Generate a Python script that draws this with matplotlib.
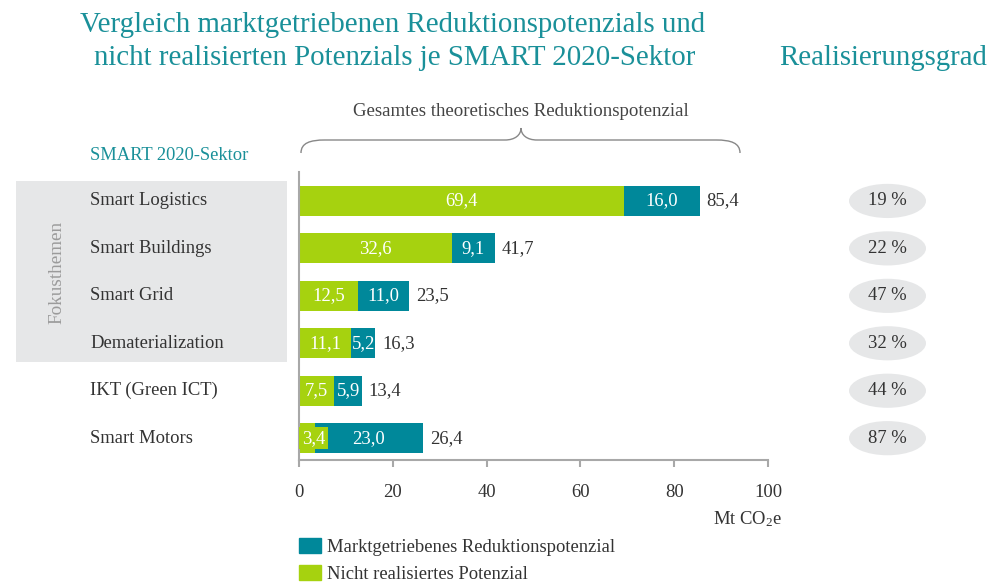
import numpy as np
import matplotlib
matplotlib.use('Agg')
import matplotlib.pyplot as plt
from matplotlib.patches import Patch, Ellipse, Rectangle, PathPatch
from matplotlib.path import Path
from matplotlib import transforms

# Daten
sektoren = ['Smart Logistics', 'Smart Buildings', 'Smart Grid', 'Dematerialization',
            'IKT (Green ICT)', 'Smart Motors']
nicht_realisiert = [69.4, 32.6, 12.5, 11.1, 7.5, 3.4]
marktgetrieben = [16.0, 9.1, 11.0, 5.2, 5.9, 23.0]
gesamt = [85.4, 41.7, 23.5, 16.3, 13.4, 26.4]
realisierungsgrad = ['19 %', '22 %', '47 %', '32 %', '44 %', '87 %']
x_ticks = [0, 20, 40, 60, 80, 100]

GREEN = '#a6d20f'
TEAL = '#00889a'
TITLE_COL = '#1a9099'
TEXT_COL = '#333333'
GREY_BG = '#e6e7e8'
AXIS_COL = '#a8a8a8'
FS = 13.4
TITLE_FS = 20.8

plt.rcParams['font.family'] = ['Liberation Serif', 'DejaVu Serif']
plt.rcParams['mathtext.default'] = 'regular'

W, H = 997, 583
fig = plt.figure(figsize=(W / 100, H / 100), dpi=100)

# Overlay in Pixelkoordinaten fuer Titel und Klammer
over = fig.add_axes([0, 0, 1, 1])
over.set_xlim(0, W)
over.set_ylim(H, 0)
over.axis('off')

ax = fig.add_axes([299 / W, 1 - 460 / H, 469 / W, 288 / H])
y = np.arange(len(sektoren))
ax.barh(y, nicht_realisiert, height=0.63, color=GREEN, zorder=2)
ax.barh(y, marktgetrieben, left=nicht_realisiert, height=0.63, color=TEAL, zorder=2)
ax.set_xlim(0, 100)
ax.set_ylim(5.46, -0.61)

fmt = lambda v: f'{v:.1f}'.replace('.', ',')
for i in range(len(sektoren)):
    g, m, t = nicht_realisiert[i], marktgetrieben[i], gesamt[i]
    if g < 5:
        # Wert passt nicht ins Segment -> gruener Hintergrund
        ax.text(3.1, i, fmt(g), ha='center', va='center', color='white',
                fontsize=FS, zorder=4,
                bbox=dict(boxstyle='square,pad=0.13', fc=GREEN, ec='none'))
    else:
        ax.text(g / 2, i, fmt(g), ha='center', va='center', color='white',
                fontsize=FS, zorder=4)
    ax.text(g + m / 2, i, fmt(m), ha='center', va='center', color='white',
            fontsize=FS, zorder=4)
    ax.annotate(fmt(t), (t, i), xytext=(5, 0), textcoords='offset points',
                ha='left', va='center', color=TEXT_COL, fontsize=FS)

for s in ['top', 'right']:
    ax.spines[s].set_visible(False)
for s in ['left', 'bottom']:
    ax.spines[s].set_color(AXIS_COL)
    ax.spines[s].set_linewidth(1.5)
ax.set_yticks([])
ax.set_xticks(x_ticks)
ax.set_xticklabels([str(v) for v in x_ticks])
ax.tick_params(axis='x', direction='out', length=5, width=1.5, color=AXIS_COL,
               labelsize=FS, labelcolor=TEXT_COL, pad=12)

# Kategorien links mit grauem Kasten
blend = transforms.blended_transform_factory(fig.transFigure, ax.transData)
ax.add_patch(Rectangle((16 / W, -0.42), 271 / W, 3.82, transform=blend,
                       fc=GREY_BG, ec='none', clip_on=False, zorder=0))
for i, name in enumerate(sektoren):
    ax.text(90 / W, i, name, transform=blend, ha='left', va='center',
            fontsize=FS, color=TEXT_COL)
ax.text(57 / W, 1.5, 'Fokusthemen', transform=blend, rotation=90, ha='center',
        va='center', fontsize=FS + 0.4, color='#9b9b9b')

# Realisierungsgrad als Ellipsen
ax_r = fig.add_axes([849 / W, 1 - 460 / H, 77 / W, 288 / H], sharey=ax)
ax_r.set_xlim(0, 1)
ax_r.axis('off')
for i, txt in enumerate(realisierungsgrad):
    ax_r.add_patch(Ellipse((0.5, i), 1.0, 0.72, fc=GREY_BG, ec='none'))
    ax_r.text(0.5, i, txt, ha='center', va='center', fontsize=FS, color=TEXT_COL)

# Titel
over.text(393, 25, 'Vergleich marktgetriebenen Reduktionspotenzials und',
          ha='center', va='center', fontsize=TITLE_FS, color=TITLE_COL)
over.text(395, 58, 'nicht realisierten Potenzials je SMART 2020-Sektor',
          ha='center', va='center', fontsize=TITLE_FS, color=TITLE_COL)
over.text(883, 58, 'Realisierungsgrad', ha='center', va='center',
          fontsize=TITLE_FS, color=TITLE_COL)
over.text(90, 155, 'SMART 2020-Sektor', ha='left', va='center',
          fontsize=13.3, color=TITLE_COL)
over.text(521, 112, 'Gesamtes theoretisches Reduktionspotenzial', ha='center',
          va='center', fontsize=13.6, color='#444444')

# geschweifte Klammer
verts = [(301, 153), (301, 143), (310, 140), (325, 140),
         (505, 140),
         (515, 140), (521, 135), (521, 128),
         (521, 135), (527, 140), (537, 140),
         (716, 140),
         (731, 140), (740, 143), (740, 153)]
codes = [Path.MOVETO, Path.CURVE4, Path.CURVE4, Path.CURVE4,
         Path.LINETO,
         Path.CURVE4, Path.CURVE4, Path.CURVE4,
         Path.CURVE4, Path.CURVE4, Path.CURVE4,
         Path.LINETO,
         Path.CURVE4, Path.CURVE4, Path.CURVE4]
over.add_patch(PathPatch(Path(verts, codes), fc='none', ec='#888888', lw=1.0))

# Einheit und Legende
fig.text(782 / W, 1 - 519 / H, 'Mt CO$_2$e', ha='right', va='center',
         fontsize=FS, color=TEXT_COL)
handles = [Patch(color=TEAL, label='Marktgetriebenes Reduktionspotenzial'),
           Patch(color=GREEN, label='Nicht realisiertes Potenzial')]
leg = fig.legend(handles=handles, loc='upper left',
                 bbox_to_anchor=(299 / W, 1 - 538 / H), frameon=False,
                 fontsize=FS, handlelength=1.18, handleheight=0.86,
                 handletextpad=0.33, labelspacing=0.5, borderpad=0,
                 borderaxespad=0)
for t in leg.get_texts():
    t.set_color(TEXT_COL)

fig.savefig('out.png', dpi=100)
